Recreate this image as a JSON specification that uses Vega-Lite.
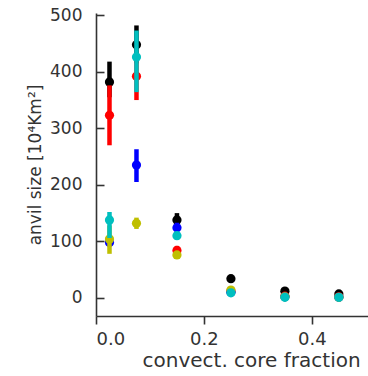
{
  "$schema": "https://vega.github.io/schema/vega-lite/v6.json",
  "autosize": "none",
  "width": 272,
  "height": 303,
  "padding": {"left": 96, "top": 13, "right": 0, "bottom": 60},
  "background": "white",
  "config": {
    "view": {"stroke": null},
    "axis": {
      "grid": false,
      "domainColor": "#333333",
      "domainWidth": 1.6,
      "tickColor": "#333333",
      "tickWidth": 1.6,
      "labelFont": "DejaVu Sans",
      "labelColor": "#333333",
      "titleFont": "DejaVu Sans",
      "titleFontWeight": "normal",
      "titleColor": "#333333"
    }
  },
  "data": {
    "values": [
      {"s": "k", "x": 0.025, "y": 382, "lo": 355, "hi": 418},
      {"s": "k", "x": 0.075, "y": 448, "lo": 415, "hi": 482},
      {"s": "k", "x": 0.15, "y": 138, "lo": 128, "hi": 150},
      {"s": "k", "x": 0.25, "y": 34, "lo": 30, "hi": 38},
      {"s": "k", "x": 0.35, "y": 12, "lo": 9, "hi": 15},
      {"s": "k", "x": 0.45, "y": 7, "lo": 4, "hi": 10},
      {"s": "r", "x": 0.025, "y": 323, "lo": 270, "hi": 376},
      {"s": "r", "x": 0.075, "y": 392, "lo": 350, "hi": 430},
      {"s": "r", "x": 0.15, "y": 84, "lo": 78, "hi": 92},
      {"s": "r", "x": 0.25, "y": 12, "lo": 10, "hi": 14},
      {"s": "r", "x": 0.35, "y": 3, "lo": 2, "hi": 4},
      {"s": "r", "x": 0.45, "y": 2, "lo": 1, "hi": 3},
      {"s": "b", "x": 0.025, "y": 98, "lo": 93, "hi": 103},
      {"s": "b", "x": 0.075, "y": 235, "lo": 205, "hi": 263},
      {"s": "b", "x": 0.15, "y": 124, "lo": 115, "hi": 133},
      {"s": "b", "x": 0.25, "y": 10, "lo": 8, "hi": 12},
      {"s": "b", "x": 0.35, "y": 2, "lo": 1, "hi": 3},
      {"s": "b", "x": 0.45, "y": 1, "lo": 0, "hi": 2},
      {"s": "y", "x": 0.025, "y": 104, "lo": 78, "hi": 128},
      {"s": "y", "x": 0.075, "y": 132, "lo": 122, "hi": 142},
      {"s": "y", "x": 0.15, "y": 76, "lo": 72, "hi": 80},
      {"s": "y", "x": 0.25, "y": 14, "lo": 11, "hi": 17},
      {"s": "y", "x": 0.35, "y": 2, "lo": 1, "hi": 3},
      {"s": "y", "x": 0.45, "y": 1, "lo": 0, "hi": 2},
      {"s": "c", "x": 0.025, "y": 138, "lo": 106, "hi": 152},
      {"s": "c", "x": 0.075, "y": 426, "lo": 364, "hi": 473},
      {"s": "c", "x": 0.15, "y": 110, "lo": 103, "hi": 117},
      {"s": "c", "x": 0.25, "y": 9, "lo": 6, "hi": 12},
      {"s": "c", "x": 0.35, "y": 1, "lo": 0, "hi": 2},
      {"s": "c", "x": 0.45, "y": 1, "lo": 0, "hi": 2}
    ]
  },
  "encoding": {
    "x": {
      "field": "x", "type": "quantitative",
      "scale": {"domain": [0, 0.504], "nice": false, "zero": false},
      "axis": {"values": [0, 0.2, 0.4], "format": ".1f", "tickSize": 8, "labelPadding": 6, "labelFontSize": 18, "title": "convect. core fraction", "titleFontSize": 20, "titleAlign": "left", "titleAnchor": "start", "titleX": 46, "titlePadding": 2}
    },
    "color": {
      "field": "s", "type": "nominal", "legend": null,
      "scale": {"domain": ["k", "r", "b", "y", "c"], "range": ["#000000", "#ff0000", "#0000ff", "#bfbf00", "#00bfbf"]}
    }
  },
  "layer": [
    {"transform": [{"filter": "datum.s === 'k'"}], "mark": {"type": "rule", "strokeWidth": 4.5}, "encoding": {"y": {"field": "lo", "type": "quantitative", "scale": {"domain": [-32, 504], "nice": false, "zero": false}, "axis": {"values": [0, 100, 200, 300, 400, 500], "tickSize": -8, "labelPadding": 22, "labelFontSize": 17, "title": "anvil size [10⁴Km²]", "titleFontSize": 17, "titlePadding": 5}}, "y2": {"field": "hi"}}},
    {"transform": [{"filter": "datum.s === 'k'"}], "mark": {"type": "circle", "size": 85, "opacity": 1}, "encoding": {"y": {"field": "y", "type": "quantitative"}}},
    {"transform": [{"filter": "datum.s === 'r'"}], "mark": {"type": "rule", "strokeWidth": 4.5}, "encoding": {"y": {"field": "lo", "type": "quantitative"}, "y2": {"field": "hi"}}},
    {"transform": [{"filter": "datum.s === 'r'"}], "mark": {"type": "circle", "size": 85, "opacity": 1}, "encoding": {"y": {"field": "y", "type": "quantitative"}}},
    {"transform": [{"filter": "datum.s === 'b'"}], "mark": {"type": "rule", "strokeWidth": 4.5}, "encoding": {"y": {"field": "lo", "type": "quantitative"}, "y2": {"field": "hi"}}},
    {"transform": [{"filter": "datum.s === 'b'"}], "mark": {"type": "circle", "size": 85, "opacity": 1}, "encoding": {"y": {"field": "y", "type": "quantitative"}}},
    {"transform": [{"filter": "datum.s === 'y'"}], "mark": {"type": "rule", "strokeWidth": 4.5}, "encoding": {"y": {"field": "lo", "type": "quantitative"}, "y2": {"field": "hi"}}},
    {"transform": [{"filter": "datum.s === 'y'"}], "mark": {"type": "circle", "size": 85, "opacity": 1}, "encoding": {"y": {"field": "y", "type": "quantitative"}}},
    {"transform": [{"filter": "datum.s === 'c'"}], "mark": {"type": "rule", "strokeWidth": 4.5}, "encoding": {"y": {"field": "lo", "type": "quantitative"}, "y2": {"field": "hi"}}},
    {"transform": [{"filter": "datum.s === 'c'"}], "mark": {"type": "circle", "size": 85, "opacity": 1}, "encoding": {"y": {"field": "y", "type": "quantitative"}}}
  ]
}
